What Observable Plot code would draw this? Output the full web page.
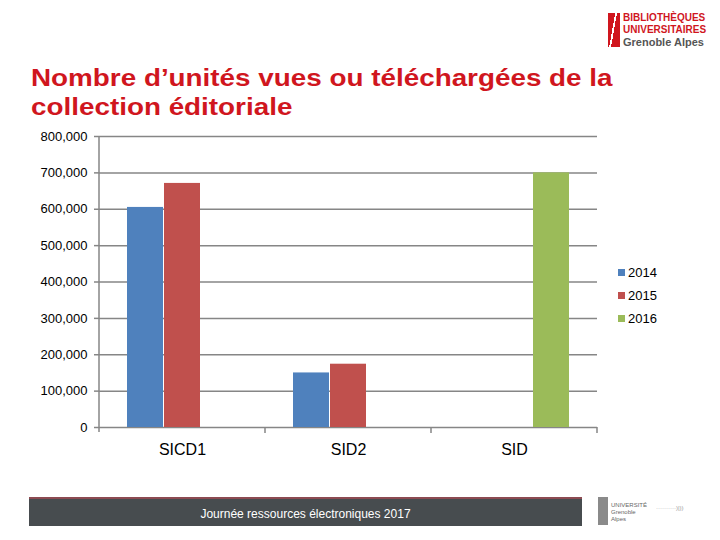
<!DOCTYPE html>
<html>
<head>
<meta charset="utf-8">
<script src="https://cdn.jsdelivr.net/npm/d3@7"></script>
<script src="https://cdn.jsdelivr.net/npm/@observablehq/plot@0.6"></script>
<style>
  html, body { margin: 0; padding: 0; background: #fff; }
  #page { position: relative; width: 720px; height: 540px; overflow: hidden; font-family: "Liberation Sans", Arial, sans-serif; }
  #title { position: absolute; left: 31px; top: 64px; font-weight: bold; font-size: 23px; line-height: 29px; color: #d0161e; white-space: nowrap; transform: scaleX(1.21); transform-origin: 0 0; }
  #chart { position: absolute; left: 0; top: 0; }
  #legend { position: absolute; left: 618px; top: 261px; font-size: 13px; }
  #legend .row { display: flex; align-items: center; height: 23px; }
  #legend .sw { width: 7px; height: 7px; margin-right: 3px; }
  #footer { position: absolute; left: 29px; top: 497px; width: 553px; height: 27px; background: #474c4f; border-top: 2px solid #8c4b52; color: #fff; font-size: 12px; text-align: center; line-height: 31px; }
  #logo { position: absolute; left: 608px; top: 12px; }
  #logo .mark { position: absolute; left: 0; top: 1px; width: 12px; height: 34px; background: linear-gradient(100deg, #d0161e 0 40%, #fff 40% 50%, #d0161e 50%); }
  #logo .t { position: absolute; left: 15px; white-space: nowrap; font-weight: bold; font-size: 10px; }
  #ulogo { position: absolute; left: 598px; top: 497px; width: 10px; height: 28px; background: #8a8a8a; }
  #ulogo2 { position: absolute; left: 611px; top: 502px; font-size: 6px; line-height: 7px; color: #666; }
  #ologo { position: absolute; left: 656px; top: 505px; font-size: 6px; color: #999; }
</style>
</head>
<body>
<div id="page">
  <div id="chart"></div>
  <div id="title">Nombre d’unités vues ou téléchargées de la<br>collection éditoriale</div>
  <div id="legend"></div>
  <div id="logo">
    <div class="mark"></div>
    <div class="t" style="top:0px;color:#d0161e">BIBLIOTHÈQUES</div>
    <div class="t" style="top:12px;color:#d0161e">UNIVERSITAIRES</div>
    <div class="t" style="top:24px;color:#555;font-size:11px">Grenoble Alpes</div>
  </div>
  <div id="footer">Journée ressources électroniques 2017</div>
  <div id="ulogo"></div>
  <div id="ulogo2">UNIVERSITÉ<br>Grenoble<br>Alpes</div>
  <div id="ologo">··········)|))</div>
</div>
<script>
const categories = ["SICD1", "SID2", "SID"];
const years = ["2014", "2015", "2016"];
const colors = ["#4f81bd", "#c0504d", "#9bbb59"];
const values2014 = [605000, 150000, null];
const values2015 = [671000, 174000, null];
const values2016 = [null, null, 700000];
const yTicks = [0, 100000, 200000, 300000, 400000, 500000, 600000, 700000, 800000];

const series = [values2014, values2015, values2016];
const data = [];
series.forEach((vals, i) => vals.forEach((v, j) => {
  if (v != null) data.push({cat: categories[j], year: years[i], value: v});
}));

const plot = Plot.plot({
  width: 720,
  height: 540,
  marginLeft: 98,
  marginRight: 122,
  marginTop: 136,
  marginBottom: 113,
  style: {fontFamily: "'Liberation Sans', Arial, sans-serif", background: "transparent", color: "#000"},
  fx: {domain: categories, padding: 0, label: null, axis: null},
  x: {domain: years, paddingInner: 0.03, paddingOuter: 0.74, axis: null},
  y: {domain: [0, 800000], axis: null},
  color: {domain: years, range: colors},
  marks: [
    Plot.ruleY(yTicks, {stroke: "#868686", strokeWidth: 1.5}),
    Plot.barY(data, {fx: "cat", x: "year", y: "value", fill: "year"}),
    Plot.axisY({ticks: yTicks, tickFormat: d3.format(","), tickSize: 5, tickPadding: 7, fontSize: 13, stroke: "#868686", fill: "#000", strokeWidth: 1.5, label: null}),
    Plot.axisFx({anchor: "bottom", tickSize: 0, tickPadding: 16, fontSize: 16, fill: "#000", label: null})
  ]
});
document.getElementById("chart").appendChild(plot);

// axis line and category boundary ticks, placed with the plot's own scales
const fx = plot.scale("fx");
const y = plot.scale("y");
const svg = d3.select(plot);
const g = svg.append("g").attr("stroke", "#868686").attr("stroke-width", 1.5);
const x0 = fx.apply(categories[0]);
g.append("line").attr("x1", x0).attr("x2", x0).attr("y1", y.apply(800000)).attr("y2", y.apply(0) + 5);
categories.forEach(c => {
  const xe = fx.apply(c) + fx.bandwidth;
  g.append("line").attr("x1", xe).attr("x2", xe).attr("y1", y.apply(0)).attr("y2", y.apply(0) + 6);
});

const legend = d3.select("#legend");
years.forEach((yr, i) => {
  const row = legend.append("div").attr("class", "row");
  row.append("div").attr("class", "sw").style("background", colors[i]);
  row.append("span").text(yr);
});
</script>
</body>
</html>
